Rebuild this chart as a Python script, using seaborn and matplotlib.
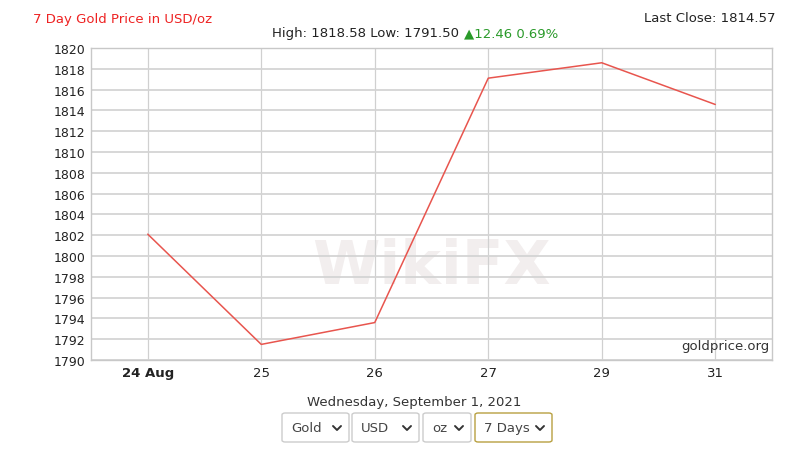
import matplotlib
matplotlib.use("Agg")
import matplotlib.pyplot as plt
import seaborn as sns
import pandas as pd
from matplotlib.patches import FancyBboxPatch
from matplotlib.lines import Line2D

days = ["24 Aug", "25", "26", "27", "29", "31"]
prices = [1802.1, 1791.5, 1793.6, 1817.1, 1818.58, 1814.57]
yticks = list(range(1790, 1821, 2))
dropdowns = ["Gold", "USD", "oz", "7 Days"]

sns.set_theme(style="white")
plt.rcParams['font.family'] = ['DejaVu Sans']

W, H = 811, 452
fig = plt.figure(figsize=(W / 100, H / 100), dpi=100)
ax = fig.add_axes([91 / W, 1 - 361 / H, (772 - 91) / W, (361 - 49) / H])

df = pd.DataFrame({"x": range(len(days)), "price": prices})
sns.lineplot(data=df, x="x", y="price", ax=ax, color="#e8554e", linewidth=1.1)

ax.set_xlim(-0.5, len(days) - 0.5)
ax.set_ylim(1790, 1820)
ax.set_xticks(range(len(days)))
ax.set_xticklabels(days)
ax.get_xticklabels()[0].set_fontweight("bold")
ax.set_yticks(yticks)
ax.set_yticklabels([str(v) for v in yticks])
ax.tick_params(axis="both", labelsize=9, colors="#222222", length=0, pad=4)
ax.tick_params(axis="x", labelsize=9.5, pad=4)
ax.set_xlabel("")
ax.set_ylabel("")
ax.grid(True, axis="y", color="#d4d4d4", linewidth=1.3)
ax.grid(True, axis="x", color="#d0d0d0", linewidth=0.9)
for s in ax.spines.values():
    s.set_color("#c8c8c8")
    s.set_linewidth(1.0)

# watermark
ax.text(0.5, 0.30, "WikiFX", transform=ax.transAxes, fontsize=44, fontweight="bold",
        color="#e8e0e0", alpha=0.55, ha="center", va="center", zorder=0)

ax.text(0.997, 0.025, "goldprice.org", transform=ax.transAxes, fontsize=9.5,
        color="#333333", ha="right", va="bottom")

def fx(px):
    return px / W

def fy(py):
    return 1 - py / H

fig.text(fx(33), fy(19), "7 Day Gold Price in USD/oz", color="#ee2222", fontsize=9.5,
         ha="left", va="center")
fig.text(fx(776), fy(19), "Last Close: 1814.57", color="#222222", fontsize=9.5,
         ha="right", va="center")
fig.text(fx(459), fy(34), "High: 1818.58 Low: 1791.50", color="#222222", fontsize=9.5,
         ha="right", va="center")
fig.text(fx(464), fy(34), "\u25b212.46 0.69%", color="#2a9a2a", fontsize=9.5,
         ha="left", va="center")
fig.text(fx(414), fy(403), "Wednesday, September 1, 2021", color="#333333", fontsize=9.5,
         ha="center", va="center")

boxes = [(282, 349), (352, 419), (423, 471), (475, 552)]
for (x0, x1), label in zip(boxes, dropdowns):
    edge = "#b8a040" if label == "7 Days" else "#cccccc"
    p = FancyBboxPatch((fx(x0), fy(443)), fx(x1 - x0), (443 - 414) / H,
                       boxstyle="round,pad=0,rounding_size=0.004",
                       transform=fig.transFigure, facecolor="white",
                       edgecolor=edge, linewidth=1.0)
    fig.patches.append(p)
    fig.text(fx(x0 + 9), fy(429), label, color="#444444", fontsize=9.5,
             ha="left", va="center")
    cx = x1 - 12
    fig.add_artist(Line2D([fx(cx - 4), fx(cx), fx(cx + 4)],
                          [fy(427), fy(431), fy(427)],
                          transform=fig.transFigure, color="#333333", linewidth=1.4))

fig.savefig("out.png", dpi=100)
